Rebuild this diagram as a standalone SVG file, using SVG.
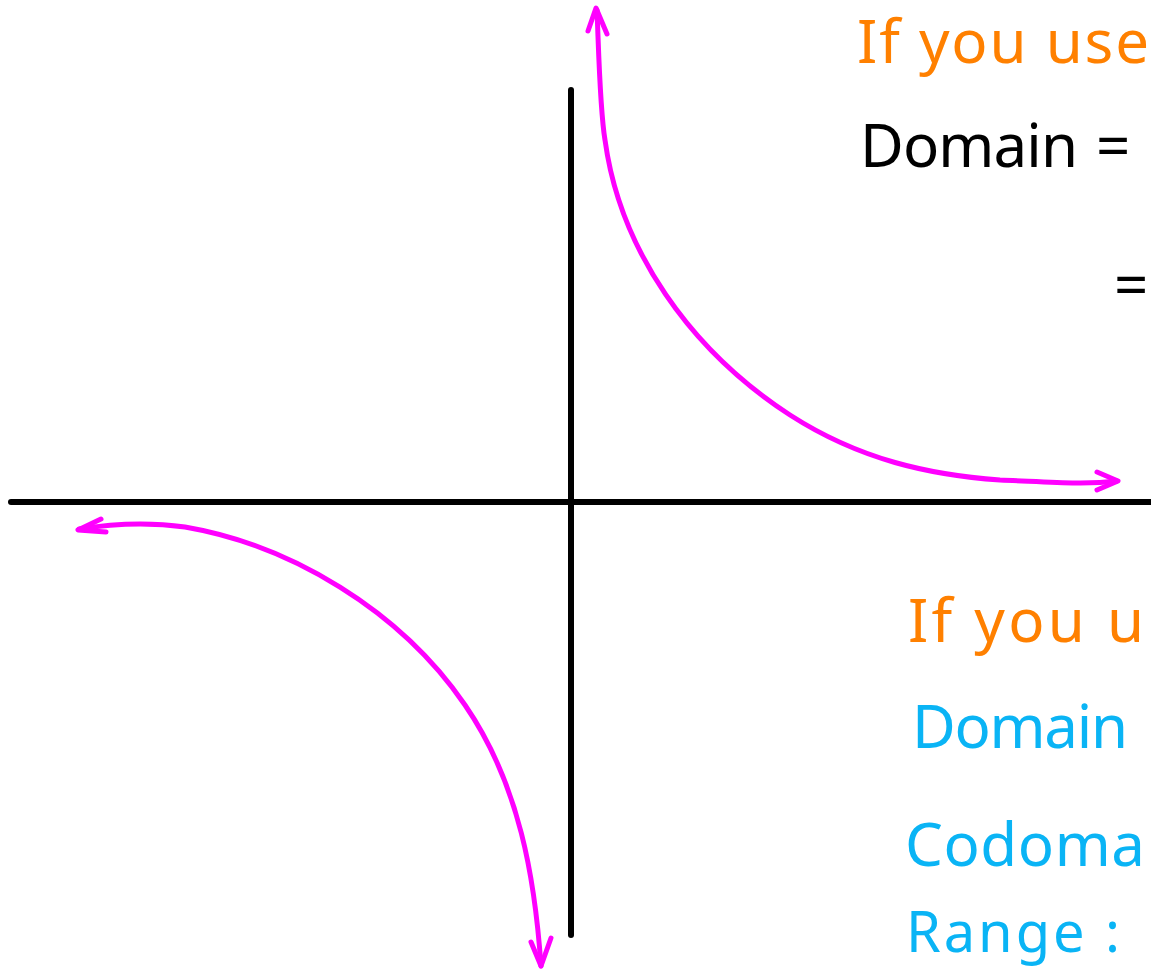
<svg xmlns="http://www.w3.org/2000/svg" width="1151" height="970" viewBox="0 0 1151 970">
<style>
.axis{stroke:#000;stroke-width:6;stroke-linecap:round;fill:none}
.curve{stroke:#ff00ff;stroke-width:5;stroke-linecap:round;stroke-linejoin:round;fill:none}
.t{font-family:"Noto Sans","Liberation Sans",sans-serif;font-size:60px}
.or{fill:#ff8000}
.bk{fill:#000}
.bl{fill:#0ab4f5}
</style>
<rect width="1151" height="970" fill="#fff"/>
<g id="axes">
<line class="axis" x1="11" y1="502" x2="1151" y2="502"/>
<line class="axis" x1="571" y1="90" x2="571" y2="935"/>
</g>
<g id="connectors">
<path id="curve-q1" class="curve" d="M597,10 C599,60 600,110 605,140 C620,250 690,350 790,415 C860,460 930,475 1000,480 C1050,482 1085,485 1117,481"/>
<path class="curve" d="M588,31 L596,8 L607,34"/>
<path class="curve" d="M1097,472 L1118,481 L1097,490"/>
<path id="curve-q3" class="curve" d="M79,529 C110,524 150,522 185,527 C290,545 400,610 465,705 C520,785 535,880 541,966"/>
<path class="curve" d="M101,519 L78,530 L106,532"/>
<path class="curve" d="M531,942 L541,966 L551,938"/>
</g>
<g id="label-top">
<text class="t or" x="857" y="63" textLength="292" lengthAdjust="spacing">If you use</text>
<text class="t bk" x="860" y="167" textLength="218" lengthAdjust="spacing">Domain</text>
<text class="t bk" x="1096" y="167">=</text>
<text class="t bk" x="1114" y="306">=</text>
</g>
<g id="label-bottom">
<text class="t or" x="908" y="642" textLength="236" lengthAdjust="spacing">If you u</text>
<text class="t bl" x="912" y="748" textLength="216" lengthAdjust="spacing">Domain</text>
<text class="t bl" x="905" y="866" textLength="240" lengthAdjust="spacing">Codoma</text>
<text class="t bl" x="906" y="952" font-size="56" textLength="214" lengthAdjust="spacing" style="font-size:56px">Range :</text>
</g>
</svg>
